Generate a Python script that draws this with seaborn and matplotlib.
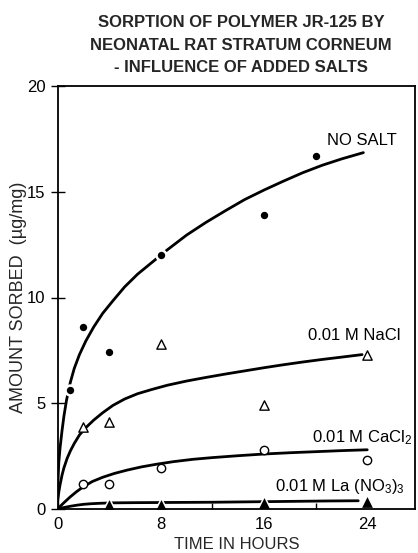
import matplotlib
matplotlib.use("Agg")
import matplotlib.pyplot as plt
import seaborn as sns

# ---------------- data ----------------
# fitted curves
no_salt_curve_t = [0, 0.03, 0.1, 0.2, 0.35, 0.5, 0.7, 1.0, 1.3, 1.7, 2.2, 2.8, 3.5, 4.3, 5.2,
                   6.2, 7.3, 8.5, 10, 11.5, 13, 14.5, 16, 17.5, 19, 20.5, 22, 23.7]
no_salt_curve_v = [0, 1.2, 2.2, 2.9, 3.7, 4.4, 5.15, 6.0, 6.65, 7.3, 7.95, 8.6, 9.25, 9.85, 10.5,
                   11.1, 11.65, 12.25, 12.95, 13.55, 14.1, 14.63, 15.08, 15.5, 15.9, 16.25, 16.55, 16.85]

nacl_curve_t = [0, 0.03, 0.1, 0.2, 0.35, 0.5, 0.75, 1.0, 1.3, 1.7, 2.2, 2.8, 3.5, 4.3, 5.2,
                6.2, 7.3, 8.5, 10, 11.5, 13, 14.5, 16, 17.5, 19, 20.5, 22, 23.6]
nacl_curve_v = [0, 0.45, 0.8, 1.15, 1.6, 1.95, 2.4, 2.75, 3.1, 3.5, 3.85, 4.2, 4.55, 4.9, 5.2,
                5.45, 5.65, 5.85, 6.05, 6.22, 6.38, 6.53, 6.68, 6.82, 6.95, 7.07, 7.18, 7.3]

cacl2_curve_t = [0, 0.5, 1.0, 1.5, 2.0, 2.7, 3.5, 4.4, 5.4, 6.5, 7.7, 9, 10.5, 12, 14, 16, 18, 20, 22, 24]
cacl2_curve_v = [0, 0.3, 0.58, 0.83, 1.05, 1.3, 1.5, 1.68, 1.84, 1.99, 2.12, 2.24, 2.35, 2.43, 2.52,
                 2.6, 2.66, 2.71, 2.76, 2.8]

la_curve_t = [0, 0.5, 1, 1.5, 2, 2.6, 3.3, 4.2, 6, 9, 12, 15, 18, 21, 23.3]
la_curve_v = [0, 0.07, 0.13, 0.18, 0.22, 0.25, 0.27, 0.29, 0.3, 0.31, 0.32, 0.34, 0.36, 0.38, 0.39]

# measured points
no_salt_t = [1, 2, 4, 8, 16, 20]
no_salt_v = [5.65, 8.6, 7.4, 12.0, 13.9, 16.7]
nacl_t = [2, 4, 8, 16, 24]
nacl_v = [3.9, 4.1, 7.8, 4.9, 7.3]
cacl2_t = [2, 4, 8, 16, 24]
cacl2_v = [1.2, 1.2, 1.96, 2.77, 2.3]
la_t = [4, 8, 16, 24]
la_v = [0.17, 0.2, 0.3, 0.35]

x_ticks = [0, 4, 8, 12, 16, 20, 24]
x_ticklabels = ["0", "", "8", "", "16", "", "24"]
y_ticks = [0, 5, 10, 15, 20]

title_lines = ["SORPTION OF POLYMER JR-125 BY",
               "NEONATAL RAT STRATUM CORNEUM",
               "- INFLUENCE OF ADDED SALTS"]
labels = ["NO SALT", "0.01 M NaCl", "0.01 M CaCl$_2$", "0.01 M La (NO$_3$)$_3$"]
label_pos = [(20.9, 17.2), (19.4, 8.0), (19.7, 3.15), (16.85, 0.87)]

# ---------------- style ----------------
sns.set_style("ticks")
plt.rcParams["font.family"] = ["Liberation Sans", "DejaVu Sans"]
plt.rcParams["mathtext.default"] = "regular"
plt.rcParams["font.size"] = 12

W, H = 418, 553
fig = plt.figure(figsize=(W / 100, H / 100), dpi=100)
left, right, top, bottom = 57.5, 415, 86, 509
ax = fig.add_axes([left / W, 1 - bottom / H, (right - left) / W, (bottom - top) / H])

lw = 2.0
for t, v in [(no_salt_curve_t, no_salt_curve_v), (nacl_curve_t, nacl_curve_v),
             (cacl2_curve_t, cacl2_curve_v), (la_curve_t, la_curve_v)]:
    sns.lineplot(x=t, y=v, ax=ax, color="black", linewidth=lw, sort=False,
                 estimator=None, zorder=2)

# white halos around filled markers (breaks in the curve)
sns.scatterplot(x=no_salt_t, y=no_salt_v, ax=ax, marker="o", s=80, color="white",
                linewidth=0, zorder=3)
sns.scatterplot(x=la_t, y=la_v, ax=ax, marker="^", s=160, color="white",
                linewidth=0, zorder=3)

# markers
sns.scatterplot(x=no_salt_t, y=no_salt_v, ax=ax, marker="o", s=28, color="black",
                linewidth=0, zorder=4)
sns.scatterplot(x=nacl_t, y=nacl_v, ax=ax, marker="^", s=45, facecolor="white",
                edgecolor="black", linewidth=1.0, zorder=4)
sns.scatterplot(x=cacl2_t, y=cacl2_v, ax=ax, marker="o", s=36, facecolor="white",
                edgecolor="black", linewidth=1.0, zorder=4)
sns.scatterplot(x=la_t, y=la_v, ax=ax, marker="^", s=60, color="black",
                linewidth=0, zorder=4)

ax.set_xlim(0, 27.7)
ax.set_ylim(0, 20)
ax.set_xticks(x_ticks)
ax.set_xticklabels(x_ticklabels)
ax.set_yticks(y_ticks)
ax.tick_params(axis="x", direction="in", length=4.5, width=1.0, pad=5.5,
               labelsize=12, colors="black")
ax.tick_params(axis="y", direction="inout", length=10, width=1.0, pad=3.5,
               labelsize=12, colors="black")
for sp in ax.spines.values():
    sp.set_linewidth(1.3)
    sp.set_color("black")
    sp.set_zorder(5)
    sp.set_visible(True)

ax.set_xlabel("TIME IN HOURS", fontsize=12)
ax.set_ylabel("AMOUNT SORBED  (\u00b5g/mg)", fontsize=13)
ax.xaxis.set_label_coords(0.5, (bottom - 537) / (bottom - top))
ax.yaxis.set_label_coords((27 - left) / (right - left), 0.5)

for txt, (tx, ty) in zip(labels, label_pos):
    ax.text(tx, ty, txt, fontsize=12, ha="left", va="baseline", color="black")

title_x = 241 / W
for line, base in zip(title_lines, [27, 50, 72.5]):
    fig.text(title_x, 1 - base / H, line, ha="center", va="baseline",
             fontsize=12, fontweight="bold")

fig.savefig("out.png", dpi=100)
